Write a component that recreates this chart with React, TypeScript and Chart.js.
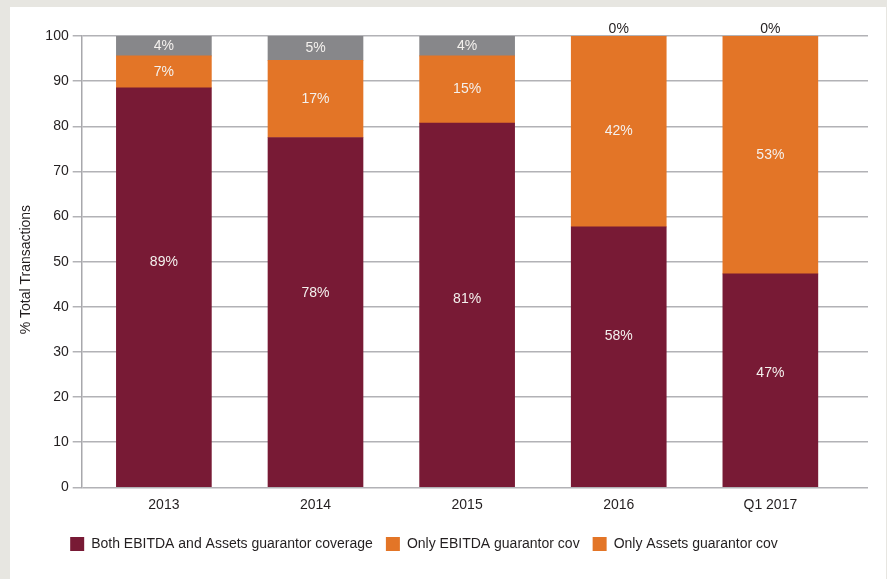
import React, { useEffect, useRef } from 'react';
import { Chart, registerables } from 'chart.js';

Chart.register(...registerables);

// ---- data ----
const categories = ['2013', '2014', '2015', '2016', 'Q1 2017'];
const seriesNames = [
  'Both EBITDA and Assets guarantor coverage',
  'Only EBITDA guarantor cov',
  'Only Assets guarantor cov',
];
const bothCoverage = [88.5, 77.5, 80.7, 57.7, 47.3];
const onlyEbitda = [7.1, 17.1, 14.9, 42.3, 52.7];
const onlyAssets = [4.4, 5.4, 4.4, 0, 0];
// where the labels of the bottom segment sit (in % units, as placed in the reference)
const bothLabelAt = [49.8, 43.0, 41.7, 33.6, 25.2];
const yTickStep = 10;
const yMax = 100;

// ---- styles ----
const FONT = '"Liberation Sans", Arial, Helvetica, sans-serif';
const TEXT = '#231f20';
const LABEL_IN = '#f4f1ee';
const barColors = ['#781a35', '#e37527', '#87878a'];
const legendColors = ['#781a35', '#e37527', '#e37527'];
const GRID = '#b2b2b6';

const allSeries = [bothCoverage, onlyEbitda, onlyAssets];

const labelPlugin = {
  id: 'segmentLabels',
  afterLayout(chart: any) {
    const lg = chart.legend;
    if (lg) {
      lg.left -= 15;
      lg.right -= 15;
    }
  },
  afterDatasetsDraw(chart: any) {
    const ctx = chart.ctx;
    const yScale = chart.scales.y;
    ctx.save();
    ctx.font = `14px ${FONT}`;
    ctx.textAlign = 'center';
    ctx.textBaseline = 'middle';
    allSeries.forEach((vals, di) => {
      const meta = chart.getDatasetMeta(di);
      meta.data.forEach((bar: any, j: number) => {
        const v = vals[j];
        const text = Math.round(v) + '%';
        let ty: number;
        if (v === 0) {
          ctx.fillStyle = TEXT;
          ty = bar.y - 7;
        } else {
          ctx.fillStyle = LABEL_IN;
          ty = di === 0 ? yScale.getPixelForValue(bothLabelAt[j]) : (bar.y + bar.base) / 2;
        }
        ctx.fillText(text, bar.x, ty);
      });
    });
    // y axis title
    const area = chart.chartArea;
    ctx.save();
    ctx.translate(yScale.left + 16, (area.top + area.bottom) / 2 + 8);
    ctx.rotate(-Math.PI / 2);
    ctx.fillStyle = TEXT;
    ctx.fillText('% Total Transactions', 0, 0);
    ctx.restore();
    ctx.restore();
  },
};

function App() {
  const ref = useRef<HTMLCanvasElement | null>(null);

  useEffect(() => {
    if (!ref.current) return;
    const font = { family: FONT, size: 14 };
    const chart = new Chart(ref.current, {
      type: 'bar',
      data: {
        datasets: allSeries.map((vals, i) => ({
          label: seriesNames[i],
          data: vals.map((v, j) => ({ x: j, y: v })),
          backgroundColor: barColors[i],
          borderWidth: 0,
          barThickness: 95,
        })),
      },
      options: {
        animation: false,
        responsive: false,
        maintainAspectRatio: false,
        layout: { padding: { left: 0, right: 18, top: 29, bottom: 18 } },
        scales: {
          x: {
            type: 'linear',
            stacked: true,
            offset: false,
            min: -0.542,
            max: 4.644,
            afterBuildTicks: (s: any) => {
              s.ticks = categories.map((_, i) => ({ value: i }));
            },
            afterFit: (s: any) => {
              s.height = 36.7;
            },
            ticks: {
              callback: (v: any) => categories[v] ?? '',
              padding: 9,
              font,
              color: TEXT,
              autoSkip: false,
              maxRotation: 0,
            },
            grid: { display: false, offset: false, drawTicks: false, tickLength: 0 },
            border: { display: false },
          },
          y: {
            stacked: true,
            min: 0,
            max: yMax,
            afterFit: (s: any) => {
              s.width = 71.7;
            },
            ticks: { stepSize: yTickStep, padding: 4, font, color: TEXT },
            grid: { color: GRID, lineWidth: 1.5, tickLength: 9, drawTicks: true },
            border: { display: true, color: '#a8a8ac', width: 1.5 },
          },
        },
        plugins: {
          tooltip: { enabled: false },
          legend: {
            position: 'bottom',
            labels: {
              boxWidth: 14,
              boxHeight: 14,
              padding: 13,
              font,
              color: TEXT,
              generateLabels: () =>
                seriesNames.map((name, i) => ({
                  text: name,
                  fillStyle: legendColors[i],
                  strokeStyle: legendColors[i],
                  lineWidth: 0,
                  hidden: false,
                  datasetIndex: i,
                  fontColor: TEXT,
                })),
            },
          },
        },
      } as any,
      plugins: [labelPlugin],
    });
    return () => chart.destroy();
  }, []);

  return (
    <div
      style={{
        position: 'absolute',
        left: 0,
        top: 0,
        width: 887,
        height: 579,
        background: '#e7e6e1',
        overflow: 'hidden',
      }}
    >
      <div
        style={{
          position: 'absolute',
          left: 10,
          top: 7,
          width: 876,
          height: 572,
          background: '#ffffff',
        }}
      >
        <canvas ref={ref} width={876} height={572} style={{ display: 'block', width: 876, height: 572 }} />
      </div>
    </div>
  );
}

export default App;
